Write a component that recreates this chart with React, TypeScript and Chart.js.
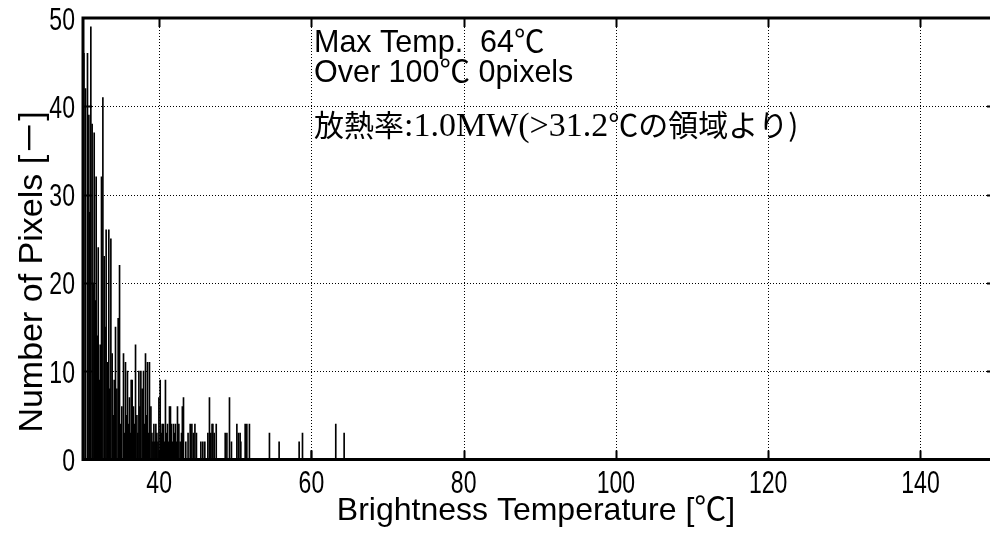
import { useEffect, useRef } from 'react';
import { Chart, registerables } from 'chart.js';

Chart.register(...registerables);

// Histogram bins (°C) and pixel counts
const binTemps = [
  30.12, 30.33, 30.59, 30.77, 30.9, 31.03, 31.2, 31.33, 31.47, 31.6, 31.73, 31.87,
  32.0, 32.13, 32.26, 32.43, 32.61, 32.78, 32.9,
  33.04, 33.22, 33.39, 33.52, 33.66, 33.83, 33.96,
  34.1, 34.27, 34.45, 34.62, 34.8, 34.95,
  35.1, 35.32, 35.45, 35.58, 35.72, 35.84, 35.97,
  36.1, 36.23, 36.33, 36.46, 36.63, 36.77, 36.9,
  37.08, 37.2, 37.34, 37.47, 37.6, 37.77, 37.95,
  38.08, 38.21, 38.34, 38.47, 38.6, 38.73, 38.92,
  39.05, 39.18, 39.31, 39.44, 39.57, 39.7, 39.84, 39.97,
  40.14, 40.27, 40.4, 40.57, 40.7, 40.83, 40.97,
  41.1, 41.23, 41.36, 41.49, 41.62, 41.75, 41.89,
  42.02, 42.15, 42.28, 42.41, 42.59, 42.76, 42.94,
  43.05, 43.2, 43.5, 43.8,
  44.08, 44.3, 44.5, 44.7, 44.9,
  45.48, 45.74, 46.0, 46.4, 46.61, 46.79, 46.95,
  47.06, 47.23, 47.5, 48.68, 48.9, 49.24, 49.5,
  50.21, 50.42, 50.64, 50.73, 51.3, 51.52, 51.86,
  54.49, 55.76, 58.39, 58.83, 60.0, 63.2, 64.3,
];

const pixelCounts = [
  46, 42, 46, 39, 28, 49, 38, 20, 37, 18, 32, 14,
  24, 9, 13, 32, 41, 23, 15,
  26, 11, 26, 8, 25, 12, 5,
  9, 15, 8, 16, 22, 4,
  6, 12, 3, 11, 5, 10, 4,
  7, 3, 9, 9, 6, 4, 13,
  5, 3, 10, 6, 10, 8, 10,
  4, 12, 5, 11, 3, 11, 6,
  3, 2, 4, 2, 4, 3, 2, 7,
  9, 3, 4, 4, 2, 9, 3,
  4, 2, 6, 6, 4, 2, 4,
  3, 4, 2, 6, 4, 2, 3,
  6, 7, 2, 3,
  4, 4, 3, 4, 3,
  2, 2, 2, 3, 7, 3, 4,
  4, 3, 4, 3, 3, 7, 2,
  4, 3, 3, 2, 4, 4, 4,
  3, 2, 2, 3, 1, 4, 3,
];

const xTicks = [40, 60, 80, 100, 120, 140];
const yTicks = [0, 10, 20, 30, 40, 50];
const xRange = [30, 149];
const yRange = [0, 50];

const xTitle = 'Brightness Temperature [℃]';
const yTitleParts = ['Number of Pixels [', '－', ']'];
const infoLines = ['Max Temp.  64℃', 'Over 100℃ 0pixels'];
const heatParts = ['放熱率', ':1.0MW(>31.2', '℃の領域より)'];

const SANS = "'Liberation Sans', 'Noto Sans CJK JP', sans-serif";
const SERIF = "'Liberation Serif', serif";
const CJK = "'Noto Sans CJK JP', sans-serif";

const framePlugin = {
  id: 'frame',
  beforeDatasetsDraw(chart: any) {
    const { ctx, chartArea: a, scales } = chart;
    const x = scales.x;
    const y = scales.y;
    ctx.save();
    ctx.strokeStyle = '#000';
    ctx.lineWidth = 1;
    ctx.setLineDash([1, 2]);
    for (const v of xTicks) {
      const px = Math.round(x.getPixelForValue(v)) + 0.5;
      ctx.beginPath();
      ctx.moveTo(px, a.top);
      ctx.lineTo(px, a.bottom);
      ctx.stroke();
    }
    for (const v of yTicks) {
      if (v === yRange[0] || v === yRange[1]) continue;
      const py = Math.round(y.getPixelForValue(v)) + 0.5;
      ctx.beginPath();
      ctx.moveTo(a.left, py);
      ctx.lineTo(chart.width, py);
      ctx.stroke();
    }
    ctx.restore();
  },
  afterDatasetsDraw(chart: any) {
    const { ctx, chartArea: a, scales } = chart;
    const x = scales.x;
    const y = scales.y;
    ctx.save();
    ctx.setLineDash([]);
    ctx.strokeStyle = '#000';
    // axes frame
    ctx.lineWidth = 3;
    ctx.beginPath();
    ctx.moveTo(chart.width, a.top);
    ctx.lineTo(a.left, a.top);
    ctx.lineTo(a.left, a.bottom);
    ctx.lineTo(chart.width, a.bottom);
    ctx.stroke();
    // inward ticks
    ctx.lineWidth = 2;
    const tl = 9;
    for (const v of xTicks) {
      const px = Math.round(x.getPixelForValue(v)) + 0.5;
      ctx.beginPath();
      ctx.moveTo(px, a.bottom);
      ctx.lineTo(px, a.bottom - tl);
      ctx.moveTo(px, a.top);
      ctx.lineTo(px, a.top + tl);
      ctx.stroke();
    }
    for (const v of yTicks) {
      if (v === yRange[0] || v === yRange[1]) continue;
      const py = Math.round(y.getPixelForValue(v)) + 0.5;
      ctx.beginPath();
      ctx.moveTo(a.left, py);
      ctx.lineTo(a.left + tl, py);
      ctx.moveTo(chart.width, py);
      ctx.lineTo(chart.width - 3, py);
      ctx.stroke();
    }
    ctx.fillStyle = '#000';
    // tick labels (condensed)
    ctx.font = `32px ${SANS}`;
    ctx.textBaseline = 'alphabetic';
    ctx.textAlign = 'center';
    for (const v of xTicks) {
      const px = x.getPixelForValue(v);
      ctx.save();
      ctx.translate(px, 493);
      ctx.scale(0.72, 1);
      ctx.fillText(String(v), 0, 0);
      ctx.restore();
    }
    ctx.textAlign = 'right';
    for (const v of yTicks) {
      const py = y.getPixelForValue(v);
      ctx.save();
      ctx.translate(75, py + 11.5);
      ctx.scale(0.72, 1);
      ctx.fillText(String(v), 0, 0);
      ctx.restore();
    }
    // titles
    ctx.font = `32px ${SANS}`;
    ctx.textAlign = 'center';
    ctx.fillText(xTitle, (a.left + a.right) / 2, 520);
    ctx.save();
    ctx.translate(42, 272);
    ctx.rotate(-Math.PI / 2);
    ctx.textAlign = 'left';
    const yFonts = [`34px ${SANS}`, `34px ${CJK}`, `34px ${SANS}`];
    let total = 0;
    yTitleParts.forEach((t, i) => {
      ctx.font = yFonts[i];
      total += ctx.measureText(t).width;
    });
    let ty = -total / 2;
    yTitleParts.forEach((t, i) => {
      ctx.font = yFonts[i];
      ctx.fillText(t, ty, 0);
      ty += ctx.measureText(t).width;
    });
    ctx.restore();
    // annotation
    ctx.textAlign = 'left';
    ctx.font = `30.5px ${SANS}`;
    ctx.fillText(infoLines[0], 314, 52);
    ctx.fillText(infoLines[1], 314, 82);
    let cx = 314;
    const fonts = [`30px ${CJK}`, `34px ${SERIF}`, `30px ${CJK}`];
    heatParts.forEach((t, i) => {
      ctx.font = fonts[i];
      ctx.fillText(t, cx, 136);
      cx += ctx.measureText(t).width;
    });
    ctx.restore();
  },
};

export default function App() {
  const ref = useRef<HTMLCanvasElement>(null);
  useEffect(() => {
    document.body.style.margin = '0';
    const canvas = ref.current!;
    const chart = new Chart(canvas, {
      type: 'bar',
      data: {
        datasets: [
          {
            data: binTemps.map((t, i) => ({ x: t, y: pixelCounts[i] })),
            backgroundColor: '#000',
            borderWidth: 0,
            barThickness: 1,
          } as any,
        ],
      },
      options: {
        animation: false,
        responsive: false,
        maintainAspectRatio: false,
        layout: { padding: { top: 18, right: 1, left: 0, bottom: 0 } },
        plugins: { legend: { display: false }, tooltip: { enabled: false } },
        scales: {
          x: {
            type: 'linear',
            offset: false,
            min: xRange[0],
            max: xRange[1],
            afterBuildTicks: (s: any) => {
              s.ticks = xTicks.map((v) => ({ value: v }));
            },
            afterFit: (s: any) => {
              s.height = 75.5;
            },
            grid: { display: false, drawTicks: false },
            border: { display: false },
            ticks: { display: false },
          },
          y: {
            type: 'linear',
            min: yRange[0],
            max: yRange[1],
            afterBuildTicks: (s: any) => {
              s.ticks = yTicks.map((v) => ({ value: v }));
            },
            afterFit: (s: any) => {
              s.width = 83;
            },
            grid: { display: false, drawTicks: false },
            border: { display: false },
            ticks: { display: false },
          },
        },
      },
      plugins: [framePlugin],
    } as any);
    return () => chart.destroy();
  }, []);
  return (
    <div style={{ width: 990, height: 535, background: '#fff' }}>
      <canvas ref={ref} width={990} height={535} style={{ display: 'block' }} />
    </div>
  );
}
